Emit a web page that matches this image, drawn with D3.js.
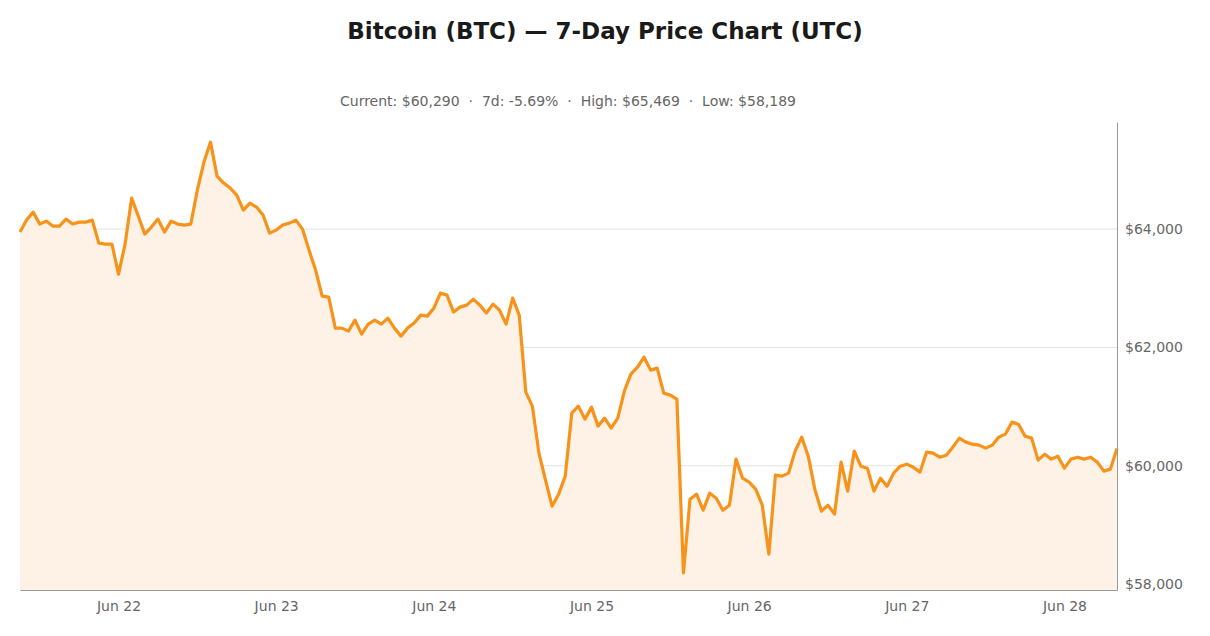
<!DOCTYPE html>
<html><head><meta charset="utf-8">
<script src="https://cdn.jsdelivr.net/npm/d3@7"></script>
<style>body{margin:0;background:#fff;font-family:"DejaVu Sans",sans-serif}</style>
</head><body><svg id="c" width="1210" height="636"></svg>
<script>
const startTime = "2024-06-21T09:00:00Z";
const prices = [63949,64152,64287,64085,64135,64051,64051,64169,64085,64118,64118,64152,63763,63746,63746,63239,63746,64524,64220,63915,64034,64169,63949,64135,64085,64068,64085,64659,65133,65469,64896,64778,64693,64575,64321,64440,64372,64237,63932,63983,64068,64101,64152,64000,63645,63307,62867,62850,62326,62326,62276,62462,62225,62394,62462,62394,62495,62326,62191,62326,62411,62546,62529,62664,62918,62884,62597,62681,62715,62817,62715,62580,62732,62631,62394,62834,62546,61244,61008,60213,59757,59317,59520,59824,60889,61008,60788,60991,60670,60805,60636,60805,61261,61549,61667,61836,61616,61650,61227,61194,61126,58189,59435,59520,59249,59537,59452,59249,59334,60112,59790,59723,59604,59334,58506,59841,59824,59875,60247,60484,60162,59604,59233,59334,59182,60061,59571,60247,59993,59959,59571,59790,59655,59875,59993,60027,59976,59892,60230,60213,60145,60179,60314,60467,60399,60365,60348,60298,60348,60484,60534,60737,60703,60501,60467,60095,60196,60112,60162,59959,60112,60145,60112,60145,60061,59909,59943,60290];
const yTicks = [58000,60000,62000,64000];
const xTickDates = ["2024-06-22","2024-06-23","2024-06-24","2024-06-25","2024-06-26","2024-06-27","2024-06-28"];
const title = "Bitcoin (BTC) — 7-Day Price Chart (UTC)";
const subtitle = "Current: $60,290  ·  7d: -5.69%  ·  High: $65,469  ·  Low: $58,189";

const t0 = new Date(startTime).getTime();
const data = prices.map((p,i)=>({t:new Date(t0+i*3600e3), p}));
const svg = d3.select("#c");
const L=20,R=1117,T=122,B=590;
const x = d3.scaleUtc().domain([data[0].t, data[data.length-1].t]).range([L,R]);
const y = d3.scaleLinear().domain([57900,65810]).range([B,T]);

svg.append("text").attr("x",605).attr("y",39).attr("text-anchor","middle")
  .attr("font-size",23).attr("font-weight","bold").attr("fill","#1a1a1a").text(title);
svg.append("text").attr("x",568).attr("y",106).attr("text-anchor","middle")
  .attr("font-size",14).attr("fill","#666").attr("xml:space","preserve").style("white-space","pre").text(subtitle);

svg.append("g").selectAll("line").data(yTicks).join("line")
  .attr("x1",L).attr("x2",R).attr("y1",d=>y(d)).attr("y2",d=>y(d))
  .attr("stroke","#e3e3e3").attr("stroke-width",1);

svg.append("path").datum(data).attr("fill","#fdf2e5")
  .attr("d",d3.area().x(d=>x(d.t)).y0(B).y1(d=>y(d.p)));
svg.append("path").datum(data).attr("fill","none").attr("stroke","#f7931a")
  .attr("stroke-width",3.2).attr("stroke-linejoin","round")
  .attr("d",d3.line().x(d=>x(d.t)).y(d=>y(d.p)));

const ya = svg.append("g").attr("transform",`translate(${R},0)`)
  .call(d3.axisRight(y).tickValues(yTicks).tickSize(0).tickPadding(8).tickFormat(d=>"$"+d3.format(",")(d)));
ya.select(".domain").attr("stroke","#999");
ya.selectAll("text").attr("font-size",14).attr("fill","#666").attr("font-family","DejaVu Sans");

const xa = svg.append("g").attr("transform",`translate(0,${B})`)
  .call(d3.axisBottom(x).tickValues(xTickDates.map(d=>new Date(d+"T00:00:00Z"))).tickSize(0).tickPadding(11)
  .tickFormat(d3.utcFormat("%b %d")));
xa.select(".domain").attr("stroke","#999");
xa.selectAll("text").attr("font-size",14).attr("fill","#666").attr("font-family","DejaVu Sans");
</script></body></html>
